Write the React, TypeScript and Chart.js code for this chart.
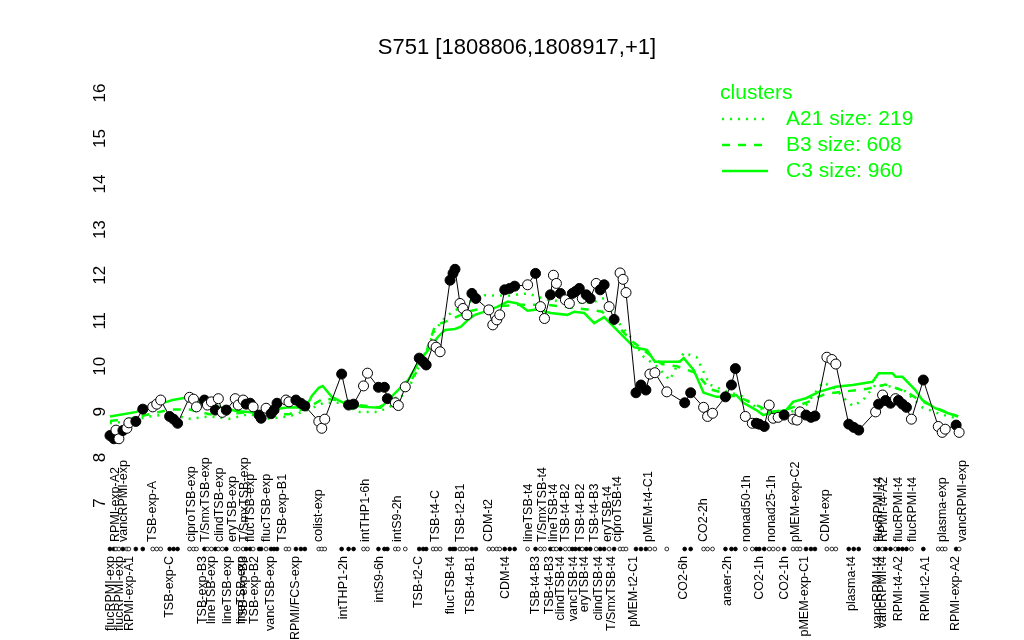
import React, { useEffect, useRef } from "react";
import { Chart, registerables } from "chart.js";

Chart.register(...registerables);

const chartTitle = "S751 [1808806,1808917,+1]";
const legendTitle = "clusters";
const clusterNames = ["A21 size: 219", "B3 size: 608", "C3 size: 960"];

// sample positions (x) and values (y)
const pointPos = [5,7,8,9.5,11.5,13.5,14.5,18,21.5,26.5,28.5,30.5,35,37,39,45,47,48.5,52.5,54,56,58,59.5,61.5,63.5,68,69.5,72,73.5,75.5,77,80,81,83.5,86,87.5,89,93.5,95,98.5,101,103,110,111.5,113,121.5,125,127.5,132.5,134.5,140,143,144.5,148.5,150,153.5,160.5,162.5,164,167.5,169,171,176,177.5,178.5,181,182.5,184.5,187,189,195.5,197.5,199.5,201,203.5,206,208.5,215,219,221.5,223.5,226.5,228,229.5,231.5,234,236,237.5,239,241,242.5,244.5,246.5,249.5,251.5,253.5,256,258.5,261.5,263,264.5,269.5,272,274.5,276.5,279,285,294,297,303.5,305.5,308,314.5,317.5,319.5,324.5,328,330,331.5,334,336.5,338.5,341,344,348.5,350.5,352,355,357.5,359.5,365.5,368,370,376.5,379,381.5,390,391.5,393.5,395,397.5,400,401.5,403.5,405.5,408,414,421.5,423.5,425,430.5,432];
const pointVal = [8.48,8.41,8.60,8.41,8.59,8.64,8.76,8.79,9.06,9.11,9.17,9.26,8.90,8.84,8.75,9.32,9.28,9.11,9.26,9.15,9.22,9.04,9.29,8.99,9.04,9.29,9.15,9.26,9.17,9.19,9.11,8.93,8.86,9.08,8.96,9.04,9.19,9.26,9.22,9.26,9.19,9.13,8.79,8.64,8.84,9.83,9.15,9.17,9.57,9.85,9.54,9.54,9.29,9.20,9.14,9.55,10.18,10.10,10.03,10.47,10.42,10.32,11.89,12.04,12.13,11.38,11.27,11.13,11.60,11.49,11.24,10.91,11.02,11.13,11.68,11.71,11.76,11.79,12.04,11.31,11.05,11.57,12.00,11.82,11.60,11.46,11.38,11.60,11.64,11.71,11.49,11.57,11.49,11.82,11.68,11.79,11.31,11.03,12.05,11.91,11.62,9.42,9.59,9.48,9.83,9.86,9.44,9.20,9.42,9.10,8.90,8.97,9.33,9.59,9.95,8.90,8.75,8.75,8.73,8.68,9.15,8.86,8.88,8.93,8.84,8.82,9.00,8.93,8.88,8.91,10.20,10.15,10.05,8.73,8.66,8.60,9.00,9.17,9.37,9.25,9.19,9.29,9.25,9.17,9.10,8.84,9.70,8.68,8.55,8.62,8.71,8.55];
const pointFilled = [1,1,0,0,1,0,0,1,1,0, 0,0,1,1,1,0,0,0,1,0, 0,1,0,0,1,0,0,0,1,1, 0,1,1,0,1,1,1,0,0,1, 1,1,0,0,0,1,1,1,0,0, 1,1,1,0,0,0,1,1,1,0, 0,0,1,1,1,0,0,0,1,1, 0,0,0,0,1,1,1,0,1,0, 0,1,0,0,1,0,0,1,1,1, 0,1,1,0,1,1,0,1,0,0, 0,1,1,1,0,0,0,1,1,0, 0,0,1,1,1,0,0,1,1,1, 0,0,0,1,0,0,0,1,1,1, 0,0,0,1,1,1,0,1,0,1, 1,0,1,1,1,0,1,0,0,0, 1,0];

// cluster mean profiles
const a21Pos = [5,15,25,35,45,55,65,75,85,95,105,112.5,120,130,140,147.5,155,162.5,168.5,174,185,193.5,205,215,225,237.5,247.5,253.5,260,267.5,273.5,280,286.5,293.5,300,306.5,315,322.5,330,337.5,345,355,363.5,370,375,378.5,383.5,390,398.5,405,413.5,422.5,431.5];
const a21Val = [8.75,8.8,8.9,8.95,8.85,8.9,8.85,8.95,8.85,8.9,9.05,9.2,9.2,9.0,9.0,9.15,9.5,10.2,10.8,11.1,11.4,11.56,11.55,11.6,11.46,11.4,11.4,11.5,11.0,10.6,10.2,10.0,9.7,10.3,10.2,9.6,9.45,9.35,9.1,9.0,8.95,9.15,9.65,9.5,9.26,9.13,9.25,9.6,9.55,9.45,9.1,8.95,8.85];
const b3Pos = [5,15,25,35,45,55,65,75,85,95,105,112.5,120,130,140,147.5,155,162.5,168.5,175,185,195,210,225,235,245,252.5,260,267.5,275,282.5,290,300,306.5,315,322.5,330,337.5,345,355,365,375,385,395,405,412.5,422.5,431.5];
const b3Val = [8.8,8.85,8.95,9.05,9.05,8.95,8.95,9.0,8.95,8.95,9.1,9.3,9.25,9.15,9.1,9.25,9.6,10.1,10.9,11.0,11.2,11.3,11.35,11.35,11.3,11.25,11.2,10.9,10.55,10.3,10.05,10.0,9.85,9.5,9.4,9.3,9.15,9.0,9.05,9.2,9.4,9.45,9.5,9.6,9.45,9.25,9.05,8.9];
const c3Pos = [5,18.5,21.5,33.5,36.5,41.5,45,51.5,56.5,61.5,68.5,78.5,85,95,103.5,106.5,110,112,116.5,122.5,131.5,141,145,148.5,155,160,165,170,173.5,178.5,181.5,185,188.5,193.5,200,205,210,215,220,226.5,235,238.5,243.5,248.5,253.5,258.5,263.5,268.5,275,279,291.5,293.5,298.5,303.5,310,316.5,320,323.5,330,333.5,336.5,345,348.5,355,361.5,370,378.5,388.5,391.5,398.5,400,403.5,410,413.5,420,426.5,431.5];
const c3Val = [8.9,9.0,9.09,9.22,9.26,9.3,9.33,9.15,9.15,9.09,9.02,8.98,9.04,9.1,9.09,9.35,9.53,9.57,9.33,9.2,9.11,9.09,9.26,9.42,9.7,10.07,10.36,10.65,10.8,10.82,10.87,11.02,11.13,11.2,11.31,11.42,11.38,11.22,11.25,11.17,11.13,11.2,11.17,10.95,11.08,10.86,10.64,10.42,10.36,10.1,10.1,10.18,9.92,9.42,9.33,9.33,9.37,9.2,9.04,8.93,8.97,9.04,9.22,9.3,9.44,9.55,9.59,9.66,9.85,9.85,9.77,9.77,9.48,9.26,9.08,8.97,8.9];

// sample labels (below and above the rug)
const bottomLabelPos = [5.5,10,15,35,51.5,56,64,71,72.25,77.5,85.5,98.5,122.5,140.75,160,176.5,186.5,204,219,226,231.5,238,243.5,250.5,257,268.5,293.5,315.5,331.5,344,354.5,378,391,393.5,401.5,415,430];
const bottomLabelText = ["flucRPMI-exp","flucRPMI-exp","RPMI-exp-A1","TSB-exp-C","TSB-exp-B3","lineTSB-exp","lineTSB-exp","lineTSB-exp","TSB-exp-B3","TSB-exp-B2","vancTSB-exp","RPMI/FCS-exp","intTHP1-2h","intS9-6h","TSB-t2-C","flucTSB-t4","TSB-t4-B1","CDM-t4","TSB-t4-B3","TSB-t4-B3","clindTSB-t4","vancTSB-t4","eryTSB-t4","clindTSB-t4","T/SmxTSB-t4","pMEM-t2-C1","CO2-6h","anaer-2h","CO2-1h","CO2-1h","pMEM-exp-C1","plasma-t4","vancRPMI-t4","vancRPMI-t4","RPMI-t4-A2","RPMI-t2-A1","RPMI-exp-A2"];
const topLabelPos = [8,11.75,26.5,46,53,60,66.5,72.5,75.5,83.5,92,110,133.5,149.5,168.5,181.5,195.5,215.5,222.5,228,234,241.5,248.5,255,260,276,303.5,325,337.5,349.5,365,391.5,393.75,401.5,408.5,423.5,433.5];
const topLabelText = ["RPMI-exp-A2","vancRPMI-exp","TSB-exp-A","ciproTSB-exp","T/SmxTSB-exp","clindTSB-exp","eryTSB-exp","T/SmxTSB-exp","flucTSB-exp","flucTSB-exp","TSB-exp-B1","colist-exp","intTHP1-6h","intS9-2h","TSB-t4-C","TSB-t2-B1","CDM-t2","lineTSB-t4","T/SmxTSB-t4","lineTSB-t4","TSB-t4-B2","TSB-t4-B2","TSB-t4-B3","eryTSB-t4","ciproTSB-t4","pMEM-t4-C1","CO2-2h","nonad50-1h","nonad25-1h","pMEM-exp-C2","CDM-exp","flucRPMI-t4","RPMI-t4-A2","flucRPMI-t4","flucRPMI-t4","plasma-exp","vancRPMI-exp"];

const FONT = "'Liberation Sans', Arial, Helvetica, sans-serif";
const GREEN = "#00ff00";
const clusterDash = [[2, 6], [8, 8], []];

export default function App() {
  const ref = useRef<HTMLCanvasElement | null>(null);

  useEffect(() => {
    document.body.style.margin = "0";
    const canvas = ref.current;
    if (!canvas) return;

    const extras = {
      id: "extras",
      afterDraw(chart: any) {
        const ctx = chart.ctx as CanvasRenderingContext2D;
        const xs = chart.scales.x;
        const ca = chart.chartArea;
        ctx.save();
        // rug of samples
        const rugY = ca.bottom + 46;
        ctx.lineWidth = 0.8;
        ctx.strokeStyle = "#000";
        for (let i = 0; i < pointPos.length; i++) {
          const px = xs.getPixelForValue(pointPos[i]);
          ctx.beginPath();
          ctx.arc(px, rugY, 1.9, 0, Math.PI * 2);
          ctx.fillStyle = pointFilled[i] ? "#000" : "#fff";
          ctx.fill();
          ctx.stroke();
        }
        // labels above rug
        ctx.fillStyle = "#000";
        ctx.font = `12.5px ${FONT}`;
        ctx.textAlign = "left";
        ctx.textBaseline = "middle";
        for (let i = 0; i < topLabelPos.length; i++) {
          const px = xs.getPixelForValue(topLabelPos[i]);
          ctx.save();
          ctx.translate(px, ca.bottom + 39);
          ctx.rotate(-Math.PI / 2);
          ctx.fillText(topLabelText[i], 0, 0);
          ctx.restore();
        }
        // legend
        const lx = ca.right - 250;
        const ly = ca.top;
        ctx.font = `21px ${FONT}`;
        ctx.fillStyle = GREEN;
        ctx.fillText(legendTitle, lx, ly);
        for (let i = 0; i < clusterNames.length; i++) {
          const y = ly + 26 * (i + 1);
          ctx.beginPath();
          ctx.setLineDash(clusterDash[i]);
          ctx.lineWidth = 2.5;
          ctx.strokeStyle = GREEN;
          ctx.moveTo(lx + 2, y);
          ctx.lineTo(lx + 48, y);
          ctx.stroke();
          ctx.setLineDash([]);
          ctx.fillText(clusterNames[i], lx + 66, y);
        }
        ctx.restore();
      },
    };

    const mk = (pos: number[], val: number[]) => pos.map((p, i) => ({ x: p, y: val[i] }));

    const chart = new Chart(canvas, {
      type: "scatter",
      data: {
        datasets: [
          {
            label: "samples",
            data: mk(pointPos, pointVal),
            showLine: true,
            borderColor: "#000",
            borderWidth: 1,
            pointRadius: 5,
            pointBorderWidth: 1,
            pointBorderColor: "#000",
            pointBackgroundColor: pointFilled.map((f) => (f ? "#000" : "#fff")),
            order: 0,
            clip: false,
          } as any,
          {
            label: clusterNames[0],
            data: mk(a21Pos, a21Val),
            showLine: true,
            borderColor: GREEN,
            borderWidth: 2.5,
            borderDash: clusterDash[0],
            pointRadius: 0,
            order: 1,
          },
          {
            label: clusterNames[1],
            data: mk(b3Pos, b3Val),
            showLine: true,
            borderColor: GREEN,
            borderWidth: 2.5,
            borderDash: clusterDash[1],
            pointRadius: 0,
            order: 2,
          },
          {
            label: clusterNames[2],
            data: mk(c3Pos, c3Val),
            showLine: true,
            borderColor: GREEN,
            borderWidth: 2.5,
            pointRadius: 0,
            order: 3,
          },
        ],
      },
      options: {
        responsive: false,
        animation: false,
        events: [],
        layout: { padding: { left: 59, right: 49, top: 0, bottom: 0 } },
        plugins: {
          legend: { display: false },
          tooltip: { enabled: false },
          title: {
            display: true,
            text: chartTitle,
            color: "#000",
            font: { family: FONT, size: 22, weight: "normal" },
            padding: { top: 35, bottom: 31.6 },
          },
        },
        scales: {
          x: {
            type: "linear",
            min: 2.5,
            max: 437.5,
            afterBuildTicks: (s: any) => {
              s.ticks = bottomLabelPos.map((v) => ({ value: v }));
            },
            afterFit: (s: any) => {
              s.height = 137;
            },
            ticks: {
              autoSkip: false,
              minRotation: 90,
              maxRotation: 90,
              padding: 53,
              color: "#000",
              font: { family: FONT, size: 12.5 },
              callback: (_v: any, i: number) => bottomLabelText[i],
            },
            grid: { display: false, drawTicks: false },
            border: { display: false },
          },
          y: {
            type: "linear",
            min: 7,
            max: 16,
            afterFit: (s: any) => {
              s.width = 46;
            },
            ticks: {
              stepSize: 1,
              color: "#000",
              font: { family: FONT, size: 17 },
              minRotation: 90,
              maxRotation: 90,
              crossAlign: "center",
              padding: -4.5,
            },
            grid: { drawOnChartArea: false, drawTicks: false, tickLength: 0, color: "#000" },
            border: { display: false },
          },
        },
      } as any,
      plugins: [extras],
    });

    return () => chart.destroy();
  }, []);

  return (
    <div style={{ width: 1024, height: 640 }}>
      <canvas ref={ref} width={1024} height={640} style={{ display: "block" }} />
    </div>
  );
}
